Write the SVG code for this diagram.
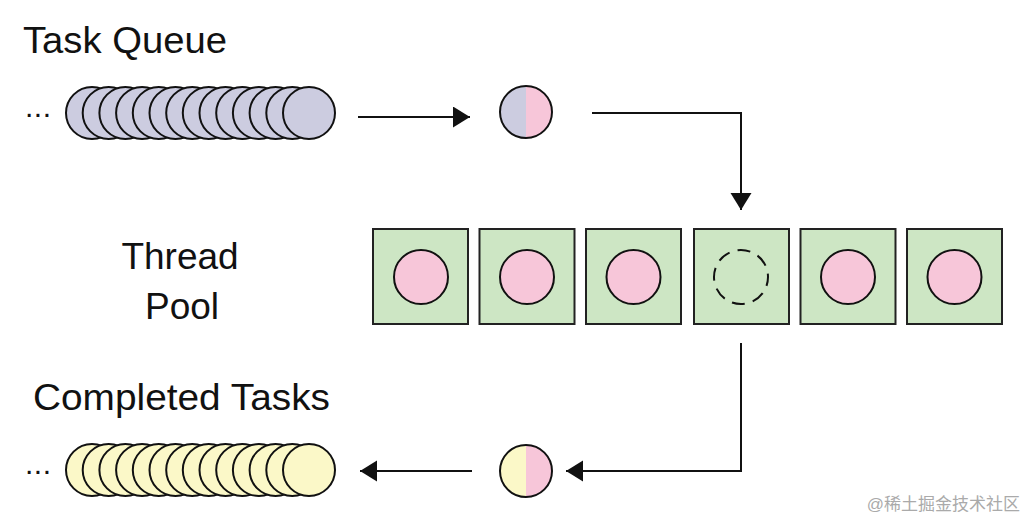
<svg xmlns="http://www.w3.org/2000/svg" width="1026" height="522" viewBox="0 0 1026 522">
<style>
.lbl{font-family:"Liberation Sans",Arial,sans-serif;font-size:37px;fill:#111}
.q{fill:#cccce0;stroke:#111;stroke-width:2}
.c{fill:#fbf8c8;stroke:#111;stroke-width:2}
.box{fill:#cde6c4;stroke:#222;stroke-width:2}
.pk{fill:#f7c6d9;stroke:#111;stroke-width:2}
.conn{fill:none;stroke:#111;stroke-width:2}
.dots{font-family:"Liberation Sans",Arial,sans-serif;font-size:30px;letter-spacing:0.5px;fill:#111}
</style>
<defs>
<marker id="ah" markerWidth="20" markerHeight="22" refX="17" refY="10.5" orient="auto" markerUnits="userSpaceOnUse">
<path d="M0,0 L17,10.5 L0,21 Z" fill="#111"/>
</marker>
</defs>
<rect width="1026" height="522" fill="#fff"/>
<text class="lbl" x="23" y="53" textLength="204" lengthAdjust="spacingAndGlyphs">Task Queue</text>
<text class="lbl" x="180" y="269" text-anchor="middle">Thread</text>
<text class="lbl" x="182" y="319" text-anchor="middle">Pool</text>
<text class="lbl" x="33" y="410" textLength="297" lengthAdjust="spacingAndGlyphs">Completed Tasks</text>

<g id="task-queue">
<text class="dots" x="25" y="117">...</text>
<circle class="q" cx="92" cy="113" r="26"/>
<circle class="q" cx="108.7" cy="113" r="26"/>
<circle class="q" cx="125.4" cy="113" r="26"/>
<circle class="q" cx="142.1" cy="113" r="26"/>
<circle class="q" cx="158.8" cy="113" r="26"/>
<circle class="q" cx="175.5" cy="113" r="26"/>
<circle class="q" cx="192.2" cy="113" r="26"/>
<circle class="q" cx="208.8" cy="113" r="26"/>
<circle class="q" cx="225.5" cy="113" r="26"/>
<circle class="q" cx="242.2" cy="113" r="26"/>
<circle class="q" cx="258.9" cy="113" r="26"/>
<circle class="q" cx="275.6" cy="113" r="26"/>
<circle class="q" cx="292.3" cy="113" r="26"/>
<circle class="q" cx="309" cy="113" r="26"/>
</g>

<g id="current-task">
<path d="M526,86 A26,26 0 0 0 526,138 Z" fill="#cccce0"/>
<path d="M526,86 A26,26 0 0 1 526,138 Z" fill="#f7c6d9"/>
<circle cx="526" cy="112" r="26" fill="none" stroke="#111" stroke-width="2"/>
</g>

<g id="thread-pool">
<g id="thread1"><rect class="box" x="373" y="229" width="95" height="95"/><circle class="pk" cx="421" cy="277" r="27"/></g>
<g id="thread2"><rect class="box" x="479.5" y="229" width="95" height="95"/><circle class="pk" cx="527" cy="277" r="27"/></g>
<g id="thread3"><rect class="box" x="586" y="229" width="95" height="95"/><circle class="pk" cx="633.5" cy="277" r="27"/></g>
<g id="thread4"><rect class="box" x="694" y="229" width="95" height="95"/><circle cx="741" cy="277" r="27" fill="none" stroke="#111" stroke-width="2" stroke-dasharray="13,8.2" stroke-dashoffset="4"/></g>
<g id="thread5"><rect class="box" x="800.5" y="229" width="95" height="95"/><circle class="pk" cx="848" cy="277" r="27"/></g>
<g id="thread6"><rect class="box" x="907" y="229" width="95" height="95"/><circle class="pk" cx="954.5" cy="277" r="27"/></g>
</g>

<g id="done-task">
<path d="M526,445 A26,26 0 0 0 526,497 Z" fill="#fbf8c8"/>
<path d="M526,445 A26,26 0 0 1 526,497 Z" fill="#f7c6d9"/>
<circle cx="526" cy="471" r="26" fill="none" stroke="#111" stroke-width="2"/>
</g>

<g id="completed-tasks">
<text class="dots" x="25" y="474">...</text>
<circle class="c" cx="92" cy="470" r="26"/>
<circle class="c" cx="108.7" cy="470" r="26"/>
<circle class="c" cx="125.4" cy="470" r="26"/>
<circle class="c" cx="142.1" cy="470" r="26"/>
<circle class="c" cx="158.8" cy="470" r="26"/>
<circle class="c" cx="175.5" cy="470" r="26"/>
<circle class="c" cx="192.2" cy="470" r="26"/>
<circle class="c" cx="208.8" cy="470" r="26"/>
<circle class="c" cx="225.5" cy="470" r="26"/>
<circle class="c" cx="242.2" cy="470" r="26"/>
<circle class="c" cx="258.9" cy="470" r="26"/>
<circle class="c" cx="275.6" cy="470" r="26"/>
<circle class="c" cx="292.3" cy="470" r="26"/>
<circle class="c" cx="309" cy="470" r="26"/>
</g>

<g id="connectors">
<line class="conn" x1="358" y1="117" x2="470" y2="117" marker-end="url(#ah)"/>
<polyline class="conn" points="592,113 741,113 741,210" marker-end="url(#ah)"/>
<polyline class="conn" points="741,343 741,471 566,471" marker-end="url(#ah)"/>
<line class="conn" x1="472" y1="471" x2="360" y2="471" marker-end="url(#ah)"/>
</g>

<text x="1020" y="510" text-anchor="end" font-family="'Liberation Sans','Noto Sans CJK SC',sans-serif" font-size="17" fill="#aaa">@稀土掘金技术社区</text>
</svg>
